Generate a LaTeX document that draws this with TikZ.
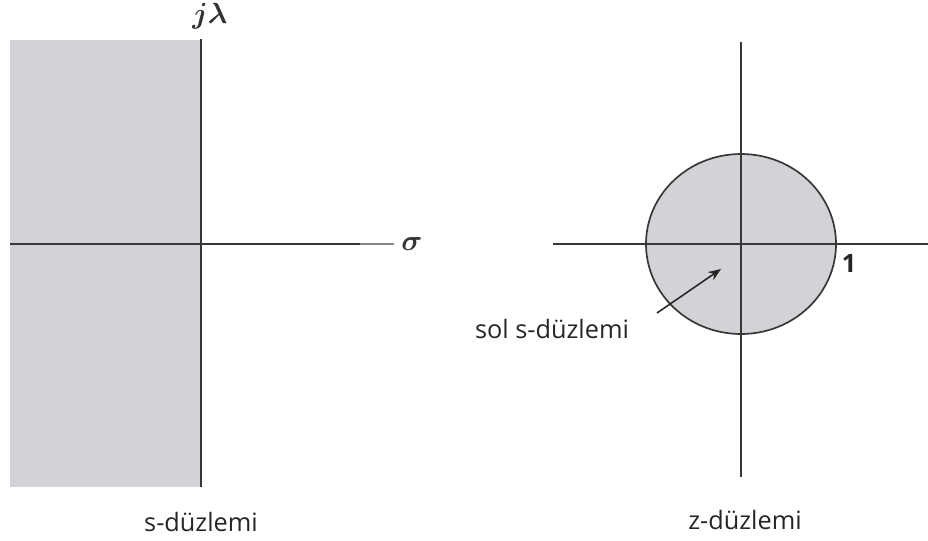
\documentclass[tikz,border=0pt]{standalone}
\usepackage{fontspec}
\setmainfont{Open Sans}
\usetikzlibrary{arrows.meta,positioning}
\definecolor{planegray}{RGB}{210,211,214}
\definecolor{axisgray}{RGB}{55,55,55}
\tikzset{every picture/.style={line width=0.75pt}}
\tikzset{
  axis/.style={draw=axisgray,line width=1.4pt},
  caption/.style={font=\fontsize{18}{21}\selectfont,text=black!85},
  symb/.style={font=\fontsize{20}{24}\selectfont\boldmath,text=black!80}
}

\begin{document}
\begin{tikzpicture}[x=0.25mm,y=-0.25mm]
    \useasboundingbox (0,0) rectangle (928,540);

    % s-plane: left half shaded
    \fill[planegray] (10,40) rectangle (200,487);
    \draw[axis] (201,39) -- (201,487);
    \draw[axis] (10,244) -- (360,244);
    \draw[axisgray!60,line width=1.4pt] (360,244) -- (394,244);
    \node[symb] (jl) at (210,16) {$j\lambda$};
    \node[symb] (sig) at (412,244) {$\sigma$};
    \node[caption] (splane) at (201,522) {s-düzlemi};

    % z-plane: unit circle
    \coordinate (o) at (741,244);
    \filldraw[fill=planegray,draw=axisgray,line width=1.2pt] (o) ellipse (95 and 90);
    \draw[axis] (553,244) -- (928,244);
    \draw[axis] (741,42) -- (741,477);
    \node[caption,font=\fontsize{18}{21}\selectfont\bfseries] (one) at (849,263) {1};
    \node[caption] (zplane) at (745,520) {z-düzlemi};

    % arrow into the unit disc
    \node[caption] (left) at (552,329) {sol s-düzlemi};
    \coordinate (tail) at (657,313);
    \coordinate (tip) at (721,269);
    \draw[-{Stealth[length=9pt,width=7pt]},line width=1.1pt,black!85] (tail) -- (tip);
\end{tikzpicture}
\end{document}
